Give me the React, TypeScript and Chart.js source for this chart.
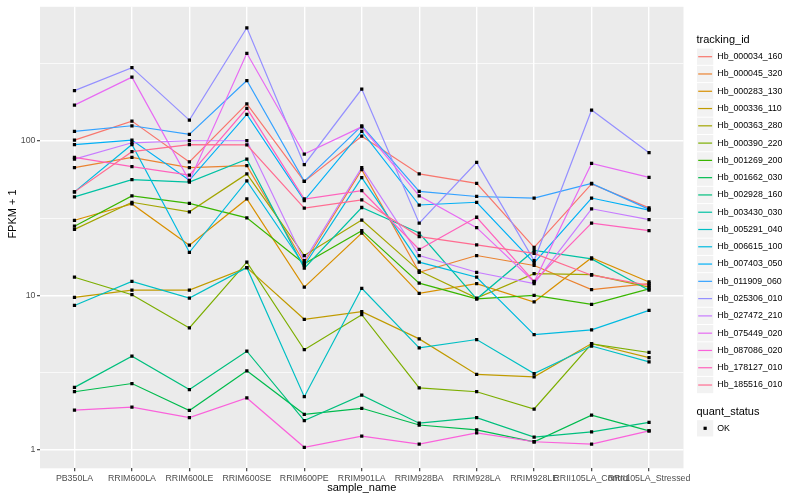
import React, { useEffect, useRef } from "react";
import { Chart, registerables } from "chart.js";

Chart.register(...registerables);

const categories = [
  "PB350LA", "RRIM600LA", "RRIM600LE", "RRIM600SE", "RRIM600PE", "RRIM901LA",
  "RRIM928BA", "RRIM928LA", "RRIM928LE", "RRII105LA_Control", "RRII105LA_Stressed",
];

const seriesNames = [
  "Hb_000034_160", "Hb_000045_320", "Hb_000283_130", "Hb_000336_110", "Hb_000363_280",
  "Hb_000390_220", "Hb_001269_200", "Hb_001662_030", "Hb_002928_160", "Hb_003430_030",
  "Hb_005291_040", "Hb_006615_100", "Hb_007403_050", "Hb_011909_060", "Hb_025306_010",
  "Hb_027472_210", "Hb_075449_020", "Hb_087086_020", "Hb_178127_010", "Hb_185516_010",
];

const seriesColors = [
  "#F8766D", "#EA8331", "#D89000", "#C09B00", "#A3A500",
  "#7CAE00", "#39B600", "#00BB4E", "#00BF7D", "#00C1A3",
  "#00BFC4", "#00BAE0", "#00B0F6", "#35A2FF", "#9590FF",
  "#C77CFF", "#E76BF3", "#FA62DB", "#FF62BC", "#FF6C91",
];

const hb000034 = [101, 134, 73, 173, 54.6, 107, 61, 53, 20.4, 52.6, 36.8];
const hb000045 = [67, 78, 67, 69, 16.2, 65, 14.1, 18.1, 15.6, 10.9, 11.9];
const hb000283 = [30.6, 39, 21.1, 42, 11.3, 25.3, 10.3, 11.9, 9.06, 17.5, 12.2];
const hb000336 = [9.7, 10.8, 10.8, 15.1, 7.0, 7.85, 5.23, 3.08, 2.97, 4.88, 3.96];
const hb000363 = [26.7, 40, 34.7, 61, 18.1, 30.7, 14.4, 9.6, 13.8, 13.6, 11.3];
const hb000390 = [13.1, 10.1, 6.15, 16.4, 4.45, 7.5, 2.52, 2.38, 1.84, 4.85, 4.27];
const hb001269 = [28, 44, 39.3, 31.7, 16.0, 26.2, 12.0, 9.5, 10.0, 8.75, 11.0];
const hb001662 = [2.38, 2.69, 1.8, 3.25, 1.7, 1.86, 1.45, 1.35, 1.13, 1.68, 1.33];
const hb002928 = [2.54, 4.04, 2.46, 4.35, 1.55, 2.26, 1.49, 1.62, 1.21, 1.31, 1.51];
const hb003430 = [43.3, 56, 54, 76, 15.0, 37, 25.3, 9.5, 19.5, 17.2, 10.8];
const hb005291 = [8.6, 12.3, 9.6, 15.1, 2.21, 11.1, 4.57, 5.18, 3.12, 4.7, 3.71];
const hb006615 = [46.7, 94.5, 19.0, 55, 15.6, 57.8, 16.4, 13.1, 5.57, 5.98, 8.0];
const hb007403 = [94.5, 101, 55.5, 148, 41, 115, 38.4, 40, 16.2, 42.6, 35.6];
const hb011909 = [115, 125, 110, 245, 54.6, 125, 47, 43.6, 42.5, 53, 36];
const hb025306 = [211, 297, 136, 538, 70, 216, 29.3, 72.5, 16.8, 158, 83.7];
const hb027472 = [76, 97, 100, 100, 16.8, 67, 18.1, 14.1, 11.9, 36.3, 30.9];
const hb075449 = [170, 258, 55, 368, 82, 123, 44, 27.4, 12.2, 71.3, 58];
const hb087086 = [1.81, 1.89, 1.62, 2.17, 1.04, 1.23, 1.09, 1.29, 1.13, 1.09, 1.33];
const hb178127 = [78, 68, 60, 162, 42, 47.5, 19.8, 32, 12.3, 29.3, 26.2];
const hb185516 = [46.7, 85, 94.5, 94, 36.7, 41.5, 24, 21.2, 18.7, 13.5, 11.6];

const seriesValues = [
  hb000034, hb000045, hb000283, hb000336, hb000363, hb000390, hb001269, hb001662,
  hb002928, hb003430, hb005291, hb006615, hb007403, hb011909, hb025306, hb027472,
  hb075449, hb087086, hb178127, hb185516,
];

const yMajorTicks = [1, 10, 100];
const yTickLabels = ["1", "10", "100"];
const quantStatus = ["OK"];

const FONT = "'Liberation Sans', Arial, sans-serif";

export default function App() {
  const ref = useRef<HTMLCanvasElement>(null);

  useEffect(() => {
    if (!ref.current) return;
    const all = seriesValues.flat();
    const lmin = Math.log10(Math.min(...all));
    const lmax = Math.log10(Math.max(...all));
    const pad = (lmax - lmin) * 0.05;
    const yMin = Math.pow(10, lmin - pad);
    const yMax = Math.pow(10, lmax + pad);

    const lineSets: any[] = seriesValues.map((vals, i) => ({
      label: seriesNames[i],
      data: vals.map((v, j) => ({ x: j, y: v })),
      borderColor: seriesColors[i],
      backgroundColor: seriesColors[i],
      borderWidth: 1.2,
      pointRadius: 0,
      pointHoverRadius: 0,
      tension: 0,
      fill: false,
      order: seriesValues.length - i,
    }));
    const pointSet: any = {
      label: quantStatus[0],
      data: seriesValues.flatMap((vals) => vals.map((v, j) => ({ x: j, y: v }))),
      showLine: false,
      pointStyle: "rect",
      pointRadius: 2.3,
      pointHoverRadius: 2.3,
      pointBackgroundColor: "#000000",
      pointBorderWidth: 0,
      order: -1,
    };

    const panelBg = {
      id: "panelBg",
      beforeDraw(chart: any) {
        const { ctx, chartArea } = chart;
        ctx.save();
        ctx.fillStyle = "#EBEBEB";
        ctx.fillRect(chartArea.left, chartArea.top, chartArea.right - chartArea.left, chartArea.bottom - chartArea.top);
        ctx.restore();
      },
    };

    const decor = {
      id: "decor",
      afterDraw(chart: any) {
        const { ctx, chartArea } = chart;
        ctx.save();
        // axis titles
        ctx.fillStyle = "#000000";
        ctx.font = `11px ${FONT}`;
        ctx.textAlign = "center";
        ctx.textBaseline = "middle";
        ctx.fillText("sample_name", (chartArea.left + chartArea.right) / 2, 488);
        ctx.save();
        ctx.translate(12.5, 214);
        ctx.rotate(-Math.PI / 2);
        ctx.fillText("FPKM + 1", 0, 0);
        ctx.restore();

        // legend: tracking_id
        const lx = 696.5;
        const kw = 17.28;
        ctx.textAlign = "left";
        ctx.font = `11px ${FONT}`;
        ctx.fillText("tracking_id", lx, 40);
        const y0 = 56.7;
        seriesNames.forEach((name, i) => {
          const cy = y0 + i * kw;
          ctx.fillStyle = "#F2F2F2";
          ctx.fillRect(lx + 0.5, cy - kw / 2 + 0.5, kw - 1, kw - 1);
          ctx.strokeStyle = seriesColors[i];
          ctx.lineWidth = 1.2;
          ctx.beginPath();
          ctx.moveTo(lx + 1.7, cy);
          ctx.lineTo(lx + kw - 1.7, cy);
          ctx.stroke();
          ctx.fillStyle = "#000000";
          ctx.font = `8.8px ${FONT}`;
          ctx.fillText(name, lx + kw + 3.5, cy);
        });

        // legend: quant_status
        ctx.font = `11px ${FONT}`;
        ctx.fillText("quant_status", lx, 411.7);
        const cy2 = 428.3;
        ctx.fillStyle = "#F2F2F2";
        ctx.fillRect(lx + 0.5, cy2 - kw / 2 + 0.5, kw - 1, kw - 1);
        ctx.fillStyle = "#000000";
        ctx.fillRect(lx + kw / 2 - 1.6, cy2 - 1.6, 3.2, 3.2);
        ctx.font = `8.8px ${FONT}`;
        ctx.fillText(quantStatus[0], lx + kw + 3.5, cy2);
        ctx.restore();
      },
    };

    const chart = new Chart(ref.current, {
      type: "line",
      data: { datasets: [...lineSets, pointSet] },
      options: {
        animation: false,
        responsive: false,
        events: [],
        layout: { padding: { left: 0, right: 116.5, top: 5.7, bottom: 0 } },
        plugins: {
          legend: { display: false },
          tooltip: { enabled: false },
          title: { display: false },
        },
        scales: {
          x: {
            type: "linear",
            min: -0.6,
            max: categories.length - 1 + 0.6,
            afterBuildTicks: (scale: any) => {
              scale.ticks = categories.map((_, i) => ({ value: i }));
            },
            afterFit: (scale: any) => {
              scale.height = 31.7;
            },
            border: { display: false },
            grid: {
              color: "#FFFFFF",
              lineWidth: 1.4,
              drawTicks: true,
              tickLength: 3,
              tickColor: "#333333",
              tickWidth: 1.1,
            },
            ticks: {
              autoSkip: false,
              maxRotation: 0,
              minRotation: 0,
              padding: 1.5,
              color: "#4D4D4D",
              font: { family: FONT, size: 8.8 },
              callback: (v: any) => categories[v] ?? "",
            },
          },
          y: {
            type: "logarithmic",
            min: yMin,
            max: yMax,
            afterBuildTicks: (scale: any) => {
              const t: any[] = [];
              const e0 = Math.floor(Math.log10(scale.min));
              const e1 = Math.ceil(Math.log10(scale.max));
              for (let e = e0; e <= e1; e++) {
                for (const m of [1, Math.sqrt(10)]) {
                  const v = Math.pow(10, e) * m;
                  if (v >= scale.min && v <= scale.max) t.push({ value: v, major: m === 1 });
                }
              }
              scale.ticks = t;
            },
            afterFit: (scale: any) => {
              scale.width = 40;
            },
            border: { display: false },
            grid: {
              color: "#FFFFFF",
              lineWidth: (c: any) => (c.tick && c.tick.major ? 1.4 : 0.7),
              drawTicks: true,
              tickLength: 3,
              tickColor: (c: any) => (c.tick && c.tick.major ? "#333333" : "rgba(0,0,0,0)"),
              tickWidth: 1.1,
            },
            ticks: {
              padding: 1.5,
              color: "#4D4D4D",
              font: { family: FONT, size: 8.8 },
              callback: (v: any) => {
                const k = yMajorTicks.findIndex((m) => Math.abs(m - v) < 1e-6 * m);
                return k >= 0 ? yTickLabels[k] : "";
              },
            },
          },
        },
      },
      plugins: [panelBg, decor],
    } as any);

    return () => chart.destroy();
  }, []);

  return (
    <div style={{ position: "absolute", left: 0, top: 0, width: 800, height: 500, background: "#FFFFFF" }}>
      <canvas ref={ref} width={800} height={500} style={{ width: 800, height: 500, display: "block" }} />
    </div>
  );
}
